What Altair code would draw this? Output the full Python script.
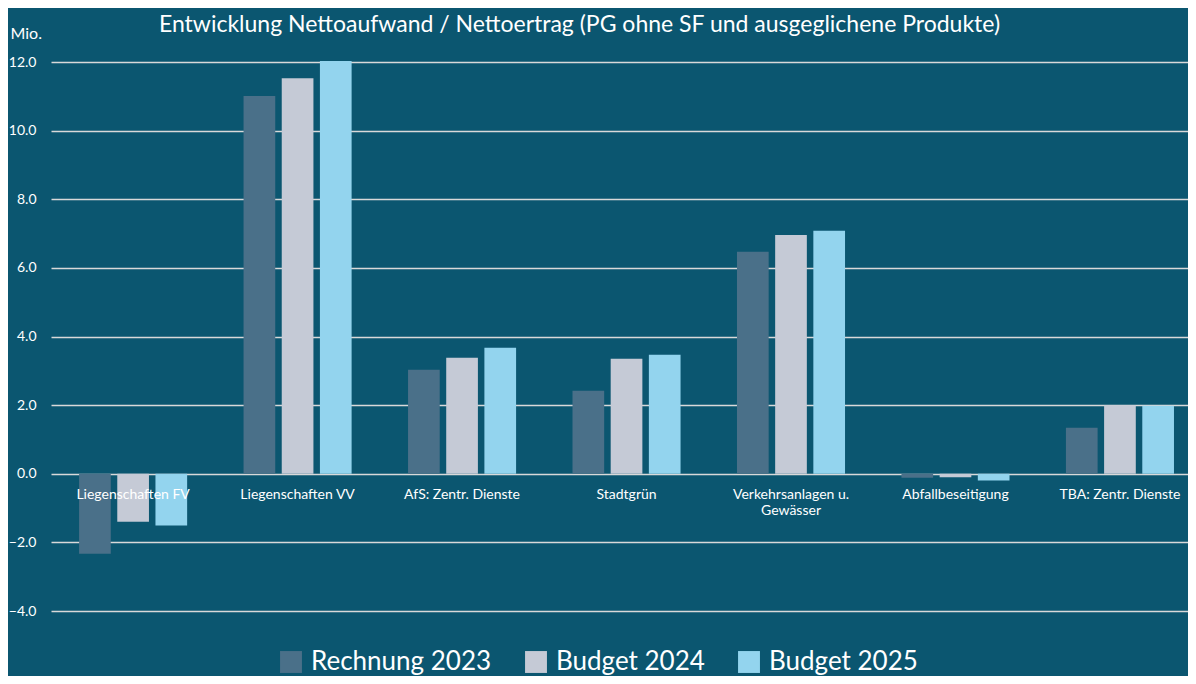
import altair as alt
import pandas as pd

categories = ["Liegenschaften FV", "Liegenschaften VV", "AfS: Zentr. Dienste", "Stadtgrün",
              "Verkehrsanlagen u. Gewässer", "Abfallbeseitigung", "TBA: Zentr. Dienste"]
category_labels = ["Liegenschaften FV", "Liegenschaften VV", "AfS: Zentr. Dienste", "Stadtgrün",
                   "Verkehrsanlagen u.\nGewässer", "Abfallbeseitigung", "TBA: Zentr. Dienste"]
series = ["Rechnung 2023", "Budget 2024", "Budget 2025"]
rechnung_2023 = [-2.33, 11.01, 3.03, 2.42, 6.47, -0.12, 1.34]
budget_2024 = [-1.40, 11.53, 3.38, 3.35, 6.96, -0.10, 2.00]
budget_2025 = [-1.51, 12.03, 3.67, 3.47, 7.08, -0.20, 1.98]
y_ticks = [-4, -2, 0, 2, 4, 6, 8, 10, 12]
colors = ["#4a7089", "#c5cad6", "#93d4ee"]
bg = "#0b5670"
FONT = "Lato"

rows = []
for name, vals in zip(series, [rechnung_2023, budget_2024, budget_2025]):
    for c, v in zip(categories, vals):
        rows.append({"Kategorie": c, "Serie": name, "Wert": v})
df = pd.DataFrame(rows)
labels_df = pd.DataFrame({"Kategorie": categories, "Label": category_labels})

x_enc = alt.X("Kategorie:N", sort=categories, axis=None,
              scale=alt.Scale(paddingInner=0.343, paddingOuter=0.128, align=0.667))

bars = alt.Chart(df).mark_bar().encode(
    x=x_enc,
    xOffset=alt.XOffset("Serie:N", sort=series, scale=alt.Scale(paddingInner=0.17)),
    y=alt.Y("Wert:Q",
            scale=alt.Scale(domain=[-4, 12], nice=False, zero=False),
            axis=alt.Axis(values=y_ticks, format=".1f", title="Mio.",
                          titleAngle=0, titleAlign="left", titleBaseline="alphabetic",
                          titleX=-41, titleY=-24, titleFontSize=16, titleColor="white",
                          titleFontWeight="normal", titleFont=FONT,
                          labelColor="white", labelFontSize=14, labelFont=FONT,
                          labelPadding=15, ticks=False, domain=False,
                          grid=True, gridColor="#d9d9d9", gridWidth=1.5)),
    color=alt.Color("Serie:N", sort=series,
                    scale=alt.Scale(domain=series, range=colors),
                    legend=alt.Legend(orient="none", legendX=227, legendY=587,
                                      direction="horizontal", symbolType="square",
                                      symbolSize=480, symbolStrokeWidth=0, symbolOpacity=1,
                                      labelFontSize=26, labelColor="white", labelFont=FONT,
                                      labelLimit=400, columnPadding=31, labelOffset=7,
                                      title=None, padding=0)),
)

text = alt.Chart(labels_df).mark_text(
    baseline="top", dy=14, fontSize=14, color="white", font=FONT, lineBreak="\n"
).encode(
    x=x_enc,
    y=alt.datum(0),
    text="Label:N",
)

chart = alt.layer(bars, text).properties(
    width=1137,
    height=549,
    padding={"left": 43, "top": 54, "right": 0, "bottom": 65},
    autosize=alt.AutoSizeParams(type="none"),
    background=bg,
    title=alt.Title("Entwicklung Nettoaufwand / Nettoertrag (PG ohne SF und ausgeglichene Produkte)",
                    color="white", fontSize=23, font=FONT, fontWeight="normal",
                    anchor="middle", frame="group", offset=0, baseline="alphabetic",
                    dx=-40, dy=30),
).configure_view(stroke=None)

chart.save("out.html", embed_options={"renderer": "svg", "actions": False})
